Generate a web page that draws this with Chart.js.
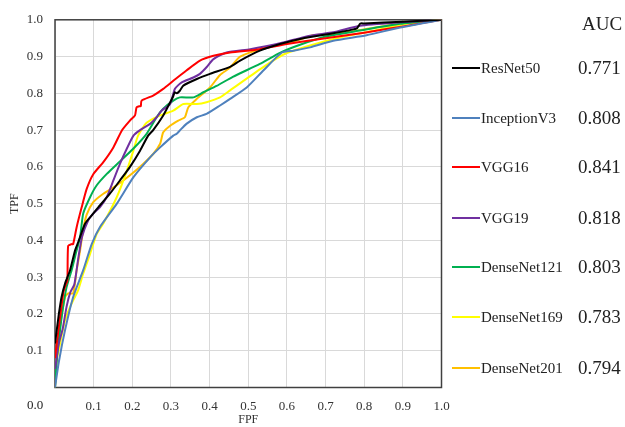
<!DOCTYPE html>
<html>
<head>
<meta charset="utf-8">
<script src="https://cdn.jsdelivr.net/npm/chart.js@4/dist/chart.umd.min.js"></script>
<style>
  html, body { margin: 0; padding: 0; background: #fff; }
  #wrap { position: relative; width: 625px; height: 427px; overflow: hidden; font-family: "Liberation Serif", "Times New Roman", serif; color: #222; }
  #c { position: absolute; left: 0; top: 0; }
  .lg-line { position: absolute; height: 2px; width: 28px; }
  .lg-txt { position: absolute; font-size: 15px; line-height: 20px; white-space: nowrap; }
  .lg-auc { position: absolute; font-size: 19px; line-height: 24px; white-space: nowrap; }
  .zero { position: absolute; font-size: 13px; line-height: 16px; }
</style>
</head>
<body>
<div id="wrap">
  <canvas id="c" width="625" height="427"></canvas>
</div>
<script>
// ---- data ----
const seriesNames = ["ResNet50", "InceptionV3", "VGG16", "VGG19", "DenseNet121", "DenseNet169", "DenseNet201"];
const seriesColors = ["#000000", "#4F81BD", "#FF0000", "#7030A0", "#00B050", "#FFFF00", "#FFC000"];
const aucValues = ["0.771", "0.808", "0.841", "0.818", "0.803", "0.783", "0.794"];
const xTickValues = [0.1, 0.2, 0.3, 0.4, 0.5, 0.6, 0.7, 0.8, 0.9, 1.0];

const resnet50Fpr = [0, 0.005, 0.01, 0.017, 0.026, 0.039, 0.052, 0.06, 0.078, 0.095, 0.112, 0.142, 0.168, 0.194, 0.22, 0.241, 0.254, 0.28, 0.298, 0.305, 0.31, 0.315, 0.323, 0.332, 0.367, 0.401, 0.453, 0.479, 0.53, 0.582, 0.634, 0.7, 0.78, 0.79, 0.8, 0.9, 1];
const resnet50Tpr = [0.12, 0.16, 0.2, 0.246, 0.283, 0.319, 0.373, 0.395, 0.446, 0.468, 0.49, 0.527, 0.563, 0.6, 0.644, 0.685, 0.7, 0.74, 0.776, 0.79, 0.803, 0.8, 0.807, 0.821, 0.839, 0.853, 0.872, 0.889, 0.916, 0.934, 0.948, 0.96, 0.976, 0.99, 0.99, 0.995, 1];

const inceptionFpr = [0, 0.01, 0.026, 0.047, 0.073, 0.095, 0.116, 0.16, 0.203, 0.246, 0.272, 0.306, 0.315, 0.323, 0.34, 0.367, 0.392, 0.427, 0.453, 0.496, 0.539, 0.587, 0.617, 0.66, 0.72, 0.806, 0.893, 1];
const inceptionTpr = [0, 0.07, 0.156, 0.246, 0.319, 0.39, 0.436, 0.5, 0.572, 0.626, 0.653, 0.685, 0.69, 0.699, 0.717, 0.735, 0.744, 0.767, 0.785, 0.816, 0.862, 0.911, 0.916, 0.925, 0.943, 0.958, 0.979, 1];

const vgg16Fpr = [0, 0.01, 0.022, 0.028, 0.032, 0.034, 0.043, 0.047, 0.056, 0.069, 0.082, 0.099, 0.125, 0.151, 0.173, 0.194, 0.207, 0.211, 0.218, 0.222, 0.224, 0.254, 0.28, 0.306, 0.34, 0.375, 0.41, 0.453, 0.53, 0.6, 0.7, 0.8, 0.9, 1];
const vgg16Tpr = [0.08, 0.165, 0.26, 0.28, 0.29, 0.385, 0.39, 0.39, 0.436, 0.49, 0.54, 0.58, 0.613, 0.653, 0.699, 0.726, 0.74, 0.762, 0.765, 0.765, 0.78, 0.794, 0.812, 0.834, 0.862, 0.889, 0.902, 0.911, 0.92, 0.934, 0.95, 0.965, 0.982, 1];

const vgg19Fpr = [0, 0.01, 0.02, 0.03, 0.04, 0.05, 0.06, 0.07, 0.086, 0.099, 0.116, 0.134, 0.151, 0.168, 0.186, 0.203, 0.22, 0.246, 0.263, 0.276, 0.298, 0.31, 0.328, 0.358, 0.375, 0.392, 0.41, 0.444, 0.505, 0.574, 0.66, 0.72, 0.789, 0.893, 1];
const vgg19Tpr = [0.05, 0.12, 0.16, 0.22, 0.26, 0.28, 0.35, 0.41, 0.455, 0.473, 0.49, 0.518, 0.563, 0.608, 0.65, 0.685, 0.7, 0.717, 0.735, 0.753, 0.771, 0.812, 0.83, 0.843, 0.853, 0.871, 0.893, 0.911, 0.92, 0.934, 0.957, 0.966, 0.984, 0.993, 1];

const dense121Fpr = [0, 0.005, 0.013, 0.021, 0.03, 0.043, 0.056, 0.065, 0.073, 0.091, 0.108, 0.134, 0.168, 0.203, 0.237, 0.263, 0.28, 0.306, 0.323, 0.358, 0.384, 0.418, 0.46, 0.53, 0.582, 0.634, 0.703, 0.789, 0.893, 1];
const dense121Tpr = [0, 0.08, 0.156, 0.219, 0.273, 0.319, 0.373, 0.409, 0.473, 0.518, 0.55, 0.581, 0.615, 0.65, 0.69, 0.735, 0.758, 0.78, 0.789, 0.789, 0.803, 0.82, 0.845, 0.88, 0.91, 0.932, 0.955, 0.971, 0.989, 1];

const dense169Fpr = [0, 0.002, 0.013, 0.026, 0.039, 0.047, 0.06, 0.073, 0.091, 0.108, 0.125, 0.16, 0.186, 0.203, 0.215, 0.237, 0.272, 0.306, 0.332, 0.367, 0.392, 0.427, 0.453, 0.53, 0.59, 0.66, 0.737, 0.824, 0.91, 1];
const dense169Tpr = [0.06, 0.066, 0.12, 0.183, 0.219, 0.237, 0.265, 0.31, 0.364, 0.418, 0.446, 0.518, 0.59, 0.645, 0.685, 0.72, 0.74, 0.753, 0.771, 0.771, 0.776, 0.789, 0.808, 0.865, 0.905, 0.93, 0.952, 0.97, 0.989, 1];

const dense201Fpr = [0, 0.005, 0.013, 0.026, 0.034, 0.047, 0.056, 0.065, 0.073, 0.082, 0.099, 0.125, 0.16, 0.194, 0.228, 0.254, 0.272, 0.28, 0.298, 0.319, 0.336, 0.345, 0.367, 0.401, 0.427, 0.453, 0.479, 0.548, 0.625, 0.668, 0.72, 0.806, 0.893, 1];
const dense201Tpr = [0, 0.08, 0.165, 0.246, 0.256, 0.256, 0.319, 0.373, 0.43, 0.47, 0.504, 0.527, 0.55, 0.577, 0.608, 0.635, 0.663, 0.694, 0.712, 0.726, 0.735, 0.762, 0.785, 0.816, 0.85, 0.87, 0.9, 0.925, 0.943, 0.958, 0.961, 0.975, 0.989, 1];

const fprLists = [resnet50Fpr, inceptionFpr, vgg16Fpr, vgg19Fpr, dense121Fpr, dense169Fpr, dense201Fpr];
const tprLists = [resnet50Tpr, inceptionTpr, vgg16Tpr, vgg19Tpr, dense121Tpr, dense169Tpr, dense201Tpr];

// ---- chart ----
const SERIF = "'Liberation Serif', 'Times New Roman', serif";
const datasets = seriesNames.map((name, i) => ({
  label: name,
  data: fprLists[i].map((x, k) => ({ x: x, y: tprLists[i][k] })),
  borderColor: seriesColors[i],
  backgroundColor: seriesColors[i],
  borderWidth: 2,
  pointRadius: 0,
  tension: 0.2,
  fill: false
}));

const frame = {
  id: 'frame',
  beforeDatasetsDraw(chart) {
    const a = chart.chartArea, ctx = chart.ctx;
    ctx.save();
    ctx.strokeStyle = '#404040';
    ctx.lineWidth = 1.5;
    ctx.strokeRect(a.left, a.top, a.right - a.left, a.bottom - a.top);
    ctx.restore();
  }
};

new Chart(document.getElementById('c'), {
  type: 'scatter',
  data: { datasets: datasets },
  options: {
    responsive: false,
    animation: false,
    devicePixelRatio: 1,
    showLine: true,
    layout: { padding: { left: 0, top: 19, right: 183.5, bottom: 0 } },
    plugins: { legend: { display: false }, tooltip: { enabled: false } },
    scales: {
      x: {
        type: 'linear', min: 0, max: 1,
        afterFit(s) { s.height = 39.5; },
        afterBuildTicks(s) { s.ticks = [{ value: 0 }].concat(xTickValues.map(v => ({ value: v }))); },
        grid: { color: '#d9d9d9', lineWidth: 1, drawTicks: false },
        border: { display: false },
        ticks: {
          padding: 11, color: '#333', maxRotation: 0, autoSkip: false,
          font: { family: SERIF, size: 13 },
          callback: v => (v === 0 ? '' : v.toFixed(1))
        },
        title: { display: true, text: 'FPF', color: '#333', font: { family: SERIF, size: 12 }, padding: { top: 0, bottom: 0 } }
      },
      y: {
        type: 'linear', min: 0, max: 1,
        afterFit(s) { s.width = 55; },
        afterBuildTicks(s) { s.ticks = [{ value: 0 }].concat(xTickValues.map(v => ({ value: v }))); },
        grid: { color: '#d9d9d9', lineWidth: 1, drawTicks: false },
        border: { display: false },
        ticks: {
          padding: 12, color: '#333', autoSkip: false,
          font: { family: SERIF, size: 13 },
          callback: v => (v === 0 ? '' : v.toFixed(1))
        },
        title: { display: true, text: 'TPF', color: '#333', font: { family: SERIF, size: 12 }, padding: { top: 8, bottom: 0 } }
      }
    }
  },
  plugins: [frame]
});

// ---- legend (HTML text) ----
const wrap = document.getElementById('wrap');
const rowCenters = [68, 118, 167, 218, 267, 317, 368];
const aucHead = document.createElement('div');
aucHead.className = 'lg-auc';
aucHead.textContent = 'AUC';
aucHead.style.left = '582px';
aucHead.style.top = (24 - 12) + 'px';
wrap.appendChild(aucHead);
seriesNames.forEach((name, i) => {
  const cy = rowCenters[i];
  const ln = document.createElement('div');
  ln.className = 'lg-line';
  ln.style.left = '452px';
  ln.style.top = (cy - 1) + 'px';
  ln.style.background = seriesColors[i];
  wrap.appendChild(ln);
  const t = document.createElement('div');
  t.className = 'lg-txt';
  t.textContent = name;
  t.style.left = '481px';
  t.style.top = (cy - 10) + 'px';
  wrap.appendChild(t);
  const a = document.createElement('div');
  a.className = 'lg-auc';
  a.textContent = aucValues[i];
  a.style.left = '578px';
  a.style.top = (cy - 12) + 'px';
  wrap.appendChild(a);
});
const z = document.createElement('div');
z.className = 'zero';
z.textContent = '0.0';
z.style.left = '27px';
z.style.top = '397px';
wrap.appendChild(z);
</script>
</body>
</html>
